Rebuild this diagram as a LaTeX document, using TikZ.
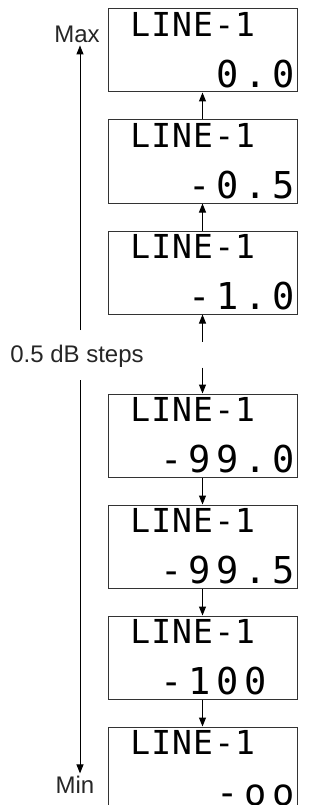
\documentclass[tikz,border=0pt]{standalone}
\usepackage{fontspec}
\setmainfont{Liberation Sans}
\newfontfamily\lcdfont{DejaVu Sans Mono}
\usetikzlibrary{arrows.meta}

% one LCD character per cell, * leaves a cell blank
\newlength\lcdpitch
\newcommand\lcdcell[1]{\makebox[\lcdpitch][c]{\if*#1\else#1\fi}}
\def\lcdrun#1{\ifx\relax#1\else\lcdcell{#1}\expandafter\lcdrun\fi}
\newcommand\lcd[2]{\setlength\lcdpitch{#1}\lcdrun#2\relax}

\begin{document}
\begin{tikzpicture}[x=1pt, y=1pt, node distance=111pt]
\tikzstyle{screen} = [rectangle, minimum width=189pt, minimum height=83pt, draw=black!80, line width=1pt]
\tikzstyle{toprow} = [anchor=base west, inner sep=0pt, font=\lcdfont\fontsize{33}{33}\selectfont]
\tikzstyle{valrow} = [anchor=base east, inner sep=0pt, font=\lcdfont\fontsize{37}{37}\selectfont]
\tikzstyle{label} = [font=\fontsize{24}{28}\selectfont, text=black!85]
\tikzstyle{arrow} = [line width=1pt, -{Triangle[length=9pt,width=7pt]}]
\useasboundingbox (0,0) rectangle (320,-805);
%
\node (b1) [screen] at (202.5,-50.5) {};
\node (b2) [screen, below of=b1] {};
\node (b3) [screen, below of=b2] {};
\node (b4) [screen, below of=b3, yshift=-52pt] {};
\node (b5) [screen, below of=b4] {};
\node (b6) [screen, below of=b5] {};
\node (b7) [screen, below of=b6] {};
%
\node (t1) [toprow] at ([xshift=22pt,yshift=-28pt]b1.north west) {\lcd{21pt}{LINE-1}};
\node (t2) [toprow] at ([xshift=22pt,yshift=-28pt]b2.north west) {\lcd{21pt}{LINE-1}};
\node (t3) [toprow] at ([xshift=22pt,yshift=-28pt]b3.north west) {\lcd{21pt}{LINE-1}};
\node (t4) [toprow] at ([xshift=22pt,yshift=-28pt]b4.north west) {\lcd{21pt}{LINE-1}};
\node (t5) [toprow] at ([xshift=22pt,yshift=-28pt]b5.north west) {\lcd{21pt}{LINE-1}};
\node (t6) [toprow] at ([xshift=22pt,yshift=-28pt]b6.north west) {\lcd{21pt}{LINE-1}};
\node (t7) [toprow] at ([xshift=22pt,yshift=-28pt]b7.north west) {\lcd{21pt}{LINE-1}};
%
\node (v1) [valrow] at ([yshift=5pt]b1.south east) {\lcd{28pt}{0.0}};
\node (v2) [valrow] at ([yshift=5pt]b2.south east) {\lcd{28pt}{-0.5}};
\node (v3) [valrow] at ([yshift=5pt]b3.south east) {\lcd{28pt}{-1.0}};
\node (v4) [valrow] at ([yshift=5pt]b4.south east) {\lcd{28pt}{-99.0}};
\node (v5) [valrow] at ([yshift=5pt]b5.south east) {\lcd{28pt}{-99.5}};
\node (v6) [valrow] at ([yshift=5pt]b6.south east) {\lcd{28pt}{-100*}};
\node (v7) [valrow] at ([yshift=5pt]b7.south east) {\lcd{28pt}{-oo}};
%
\node (max) [label, anchor=base, inner sep=2pt] at (77,-43) {Max};
\node (steps) [label, anchor=base] at (77,-362) {0.5 dB steps};
\node (min) [label, anchor=base, inner sep=2pt] at (75,-793) {Min};
\coordinate (ax) at (80,0);
\coordinate (gapup) at ([yshift=-27pt]b3.south);
\coordinate (gapdn) at ([yshift=26pt]b4.north);
%
\draw [arrow] (ax |- 0,-330) -- (ax |- max.south);
\draw [arrow] (ax |- 0,-380) -- (ax |- min.north);
\draw [arrow] (b2) -- (b1);
\draw [arrow] (b3) -- (b2);
\draw [arrow] (gapup) -- (b3);
\draw [arrow] (gapdn) -- (b4);
\draw [arrow] (b4) -- (b5);
\draw [arrow] (b5) -- (b6);
\draw [arrow] (b6) -- (b7);
\end{tikzpicture}
\end{document}
